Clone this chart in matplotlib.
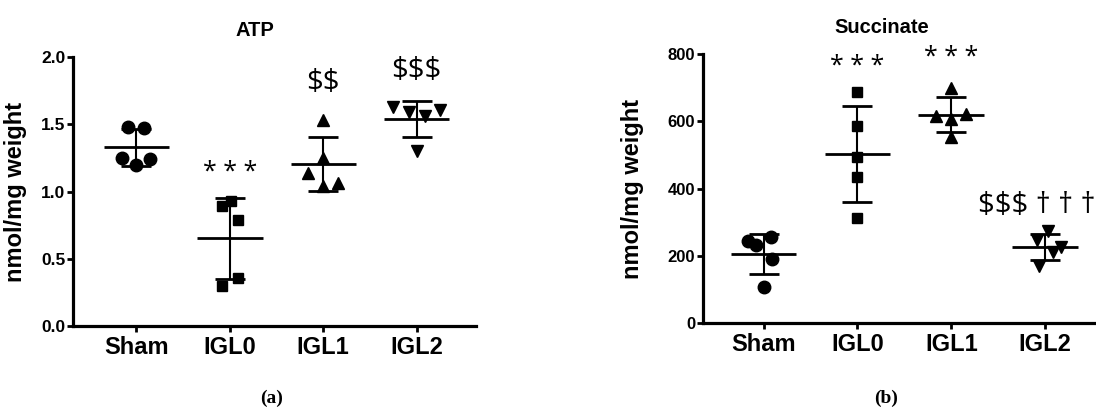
import numpy as np
import matplotlib
matplotlib.use("Agg")
from matplotlib import pyplot as plt

# groups shown on both panels
groups = ["Sham", "IGL0", "IGL1", "IGL2"]
markers = ["o", "s", "^", "v"]

# ATP, nmol/mg weight
atp_sham = [1.48, 1.47, 1.25, 1.24, 1.20]
atp_igl0 = [0.93, 0.89, 0.79, 0.36, 0.30]
atp_igl1 = [1.53, 1.25, 1.14, 1.06, 1.04]
atp_igl2 = [1.63, 1.59, 1.56, 1.61, 1.30]

# Succinate, nmol/mg weight
suc_sham = [243, 231, 256, 191, 107]
suc_igl0 = [686, 585, 494, 435, 313]
suc_igl1 = [700, 615, 608, 621, 554]
suc_igl2 = [274, 247, 210, 225, 170]

# scatter spread of the dots inside each group
atp_jitter = [[-0.09, 0.08, -0.16, 0.15, 0.0],
              [0.01, -0.08, 0.09, 0.09, -0.08],
              [0.0, 0.0, -0.16, 0.16, 0.0],
              [-0.25, -0.08, 0.09, 0.25, 0.0]]
suc_jitter = [[-0.17, -0.08, 0.08, 0.09, 0.0],
              [0.0, 0.0, 0.0, 0.0, 0.0],
              [0.0, -0.16, 0.0, 0.16, 0.0],
              [0.03, -0.09, 0.08, 0.17, -0.07]]

# significance marks: (group index, y, text, size)
atp_marks = [(1, 1.14, "* * *", 18), (2, 1.81, "$$", 21), (3, 1.90, "$$$", 21)]
suc_marks = [(1, 762, "* * *", 18), (2, 789, "* * *", 18)]
suc_mark_igl2 = (2.28, 351, "$$$ \u2020 \u2020 \u2020")

SANS = "Liberation Sans"
SYM = "Open Sans"
msize = {"o": 9, "s": 7.5, "^": 8, "v": 8}


def draw_panel(ax, data, jitter, marks, title, ylim, yticks, yfmt, ytsize):
    for i, vals in enumerate(data):
        vals = np.array(vals, dtype=float)
        xs = i + np.array(jitter[i])
        ax.plot(xs, vals, linestyle="none", marker=markers[i], color="black",
                markersize=msize[markers[i]], zorder=3)
        m = vals.mean()
        sd = vals.std(ddof=1)
        ax.hlines(m, i - 0.35, i + 0.35, color="black", linewidth=2, zorder=2)
        ax.errorbar(i, m, yerr=sd, fmt="none", ecolor="black", elinewidth=1.5,
                    capsize=11, capthick=2, zorder=2)
    for gi, y, txt, fs in marks:
        ax.text(gi, y, txt, ha="center", va="center", fontsize=fs,
                family=SYM, color="black", clip_on=False, parse_math=False)

    ax.set_xlim(-0.68, 3.64)
    ax.set_ylim(*ylim)
    ax.set_yticks(yticks)
    ax.set_yticklabels([yfmt.format(t) for t in yticks], fontsize=ytsize,
                       fontweight="bold", family=SANS)
    ax.set_xticks(range(len(groups)))
    ax.set_xticklabels(groups, fontsize=17, fontweight="bold", family=SANS)
    for s in ["top", "right"]:
        ax.spines[s].set_visible(False)
    for s in ["left", "bottom"]:
        ax.spines[s].set_linewidth(2.3)
    ax.tick_params(axis="both", width=2, length=4, pad=1.5)
    ax.tick_params(axis="x", pad=3)
    ax.set_ylabel("nmol/mg weight", fontsize=17, fontweight="bold", family=SANS)
    ax.set_title(title, fontsize=14.5, fontweight="bold", family=SANS, x=0.45, pad=15)


fig = plt.figure(figsize=(10.96, 4.15), dpi=100)
ax1 = fig.add_axes([0.0666, 0.2145, 0.368, 0.648])
ax2 = fig.add_axes([0.6414, 0.2217, 0.362, 0.648])

draw_panel(ax1, [atp_sham, atp_igl0, atp_igl1, atp_igl2], atp_jitter, atp_marks,
           "ATP", (0, 2.0), [0.0, 0.5, 1.0, 1.5, 2.0], "{:.1f}", 12.5)
draw_panel(ax2, [suc_sham, suc_igl0, suc_igl1, suc_igl2], suc_jitter, suc_marks,
           "Succinate", (0, 800), [0, 200, 400, 600, 800], "{:.0f}", 12)
ax2.set_xlim(-0.645, 3.58)
ax2.text(suc_mark_igl2[0], suc_mark_igl2[1], suc_mark_igl2[2], ha="left",
         va="center", fontsize=21, family=SYM, clip_on=False, parse_math=False)

ax1.yaxis.set_label_coords(-0.114, 0.5)
ax2.yaxis.set_label_coords(-0.148, 0.5)

fig.text(0.248, 0.04, "(a)", ha="center", va="center", fontsize=14,
         fontweight="bold", family="Liberation Serif")
fig.text(0.808, 0.04, "(b)", ha="center", va="center", fontsize=14,
         fontweight="bold", family="Liberation Serif")

fig.savefig("out.png", dpi=100)
